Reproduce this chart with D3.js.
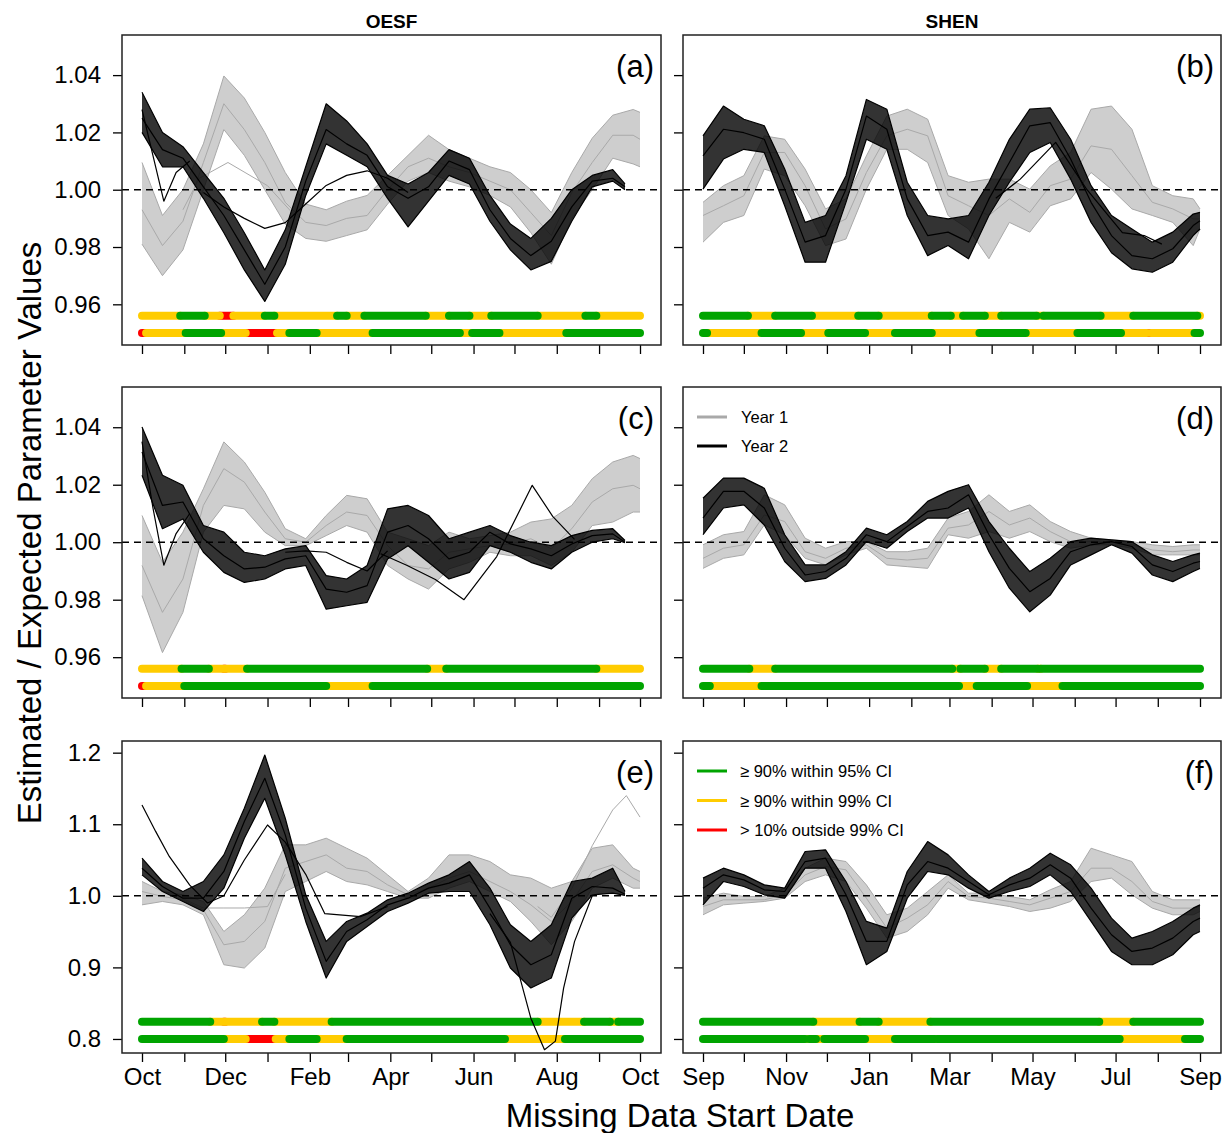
<!DOCTYPE html>
<html>
<head>
<meta charset="utf-8">
<script src="https://cdn.jsdelivr.net/npm/d3@7"></script>
<style>
  body { margin: 0; background: #fff; }
  svg { display: block; font-family: "Liberation Sans", Arial, sans-serif; }
</style>
</head>
<body>
<div id="chart"></div>
<script>
// day grids (days after the first tick of each column)
const gridFull = d3.range(0, 361, 15).concat([365]);
const gridShort = d3.range(0, 346, 15).concat([354]);

// ---- (a) OESF row 1 ----
const aGrayHi  = [1.0095,0.991,1.000,1.016,1.0397,1.032,1.020,1.006,0.995,0.993,0.996,0.998,1.005,1.012,1.019,1.014,1.011,1.008,1.006,1.000,0.992,1.006,1.018,1.026,1.028,1.027];
const aGrayMid = [0.993,0.9805,0.989,1.0095,1.030,1.021,1.0095,0.9956,0.9886,0.9875,0.990,0.991,1.000,1.008,1.011,1.008,1.006,1.003,1.000,0.992,0.984,0.999,1.0095,1.019,1.019,1.0176];
const aGrayLo  = [0.981,0.970,0.979,1.000,1.021,1.012,1.000,0.988,0.983,0.982,0.984,0.986,0.995,1.003,1.006,1.003,1.001,0.998,0.994,0.985,0.974,0.990,1.000,1.011,1.009,1.008];
const aBlackHi  = [1.034,1.020,1.015,1.006,0.997,0.985,0.972,0.986,1.008,1.030,1.024,1.016,1.005,1.002,1.006,1.014,1.011,0.998,0.988,0.983,0.990,1.000,1.005,1.007,1.002];
const aBlackMid = [1.025,1.014,1.011,1.001,0.991,0.979,0.967,0.980,1.003,1.021,1.016,1.012,1.001,0.997,1.001,1.010,1.007,0.993,0.983,0.977,0.982,0.994,1.003,1.004,1.001];
const aBlackLo  = [1.020,1.008,1.008,0.997,0.985,0.972,0.961,0.974,0.998,1.016,1.012,1.008,0.997,0.987,0.996,1.005,1.002,0.989,0.979,0.972,0.975,0.989,1.001,1.003,1.000];
const aDipDays = [0,8,16,25,35],  aDipVals = [1.028,1.012,0.996,1.006,1.010];
const aFlatDays = [45,60,75,90,105,120,135,150,165,180,195];
const aFlatVals = [0.999,0.994,0.990,0.9865,0.9885,0.995,1.0015,1.005,1.0066,1.004,0.999];
const aGrayOddDays = [30,42,63,92,110], aGrayOddVals = [0.993,1.004,1.0095,1.0014,0.992];
const aBar1Breaks = [0,28,46,57,67,90,97,143,150,163,208,225,240,256,290,325,333,365], aBar1Cols = "YGYRYGYGYGYGYGYGY";
const aBar2Breaks = [0,3,32,58,76,99,108,128,140,141,169,233,242,262,280,281,311,365], aBar2Cols = "RYGYRYGYRYGYGYRYG";

// ---- (b) SHEN row 1 ----
const bGrayHi  = [0.9956,1.0014,1.0049,1.0188,1.0176,1.0072,0.9933,0.9968,1.0118,1.0257,1.0281,1.0246,1.0049,1.0026,1.0037,1.0037,1.0002,1.0083,1.013,1.0281,1.0292,1.0211,1.0014,0.9979,0.9968,0.9933];
const bGrayMid = [0.991,0.9944,0.9979,1.013,1.013,1.0014,0.9863,0.9898,1.006,1.0188,1.0211,1.0188,0.9979,0.9944,0.991,0.9968,0.9921,1.0014,1.0037,1.0153,1.0141,1.0049,0.9956,0.9933,0.9898,0.9898];
const bGrayLo  = [0.9817,0.9886,0.991,1.0072,1.0049,0.9944,0.9805,0.9828,1.0002,1.0141,1.0141,1.0095,0.991,0.9863,0.9759,0.9886,0.9852,0.9944,0.9968,1.006,1.0002,0.9933,0.991,0.9886,0.9805,0.9863];
const bBlackHi  = [1.0188,1.0292,1.0246,1.0223,1.0072,0.9886,0.991,1.0049,1.0315,1.0281,1.0026,0.991,0.9898,0.991,1.0026,1.0176,1.0281,1.0286,1.0176,1.0014,0.991,0.9863,0.9817,0.9852,0.9915,0.9921];
const bBlackMid = [1.0118,1.0211,1.0199,1.0176,1.0002,0.9817,0.984,1.0002,1.0257,1.0211,0.9968,0.984,0.9852,0.9817,0.9968,1.0095,1.0223,1.0234,1.0107,0.9956,0.984,0.977,0.9759,0.9794,0.9875,0.9892];
const bBlackLo  = [1.0002,1.0107,1.0141,1.013,0.9944,0.9747,0.9747,0.9956,1.0176,1.0141,0.991,0.977,0.9805,0.9759,0.991,1.0026,1.013,1.0165,1.0037,0.9886,0.978,0.9724,0.9712,0.9747,0.984,0.9863];
const bSlowDays = [215,233,259,282,308,324,337], bSlowVals = [0.997,1.0037,1.0165,1.0,0.985,0.984,0.981];
const bBar1Breaks = [0,33,53,80,114,129,168,182,191,207,219,245,250,292,316,363,365], bBar1Cols = "GYGYGYGYGYGYGYGY";
const bBar2Breaks = [0,3,43,72,92,119,141,168,203,237,275,307,326,329,361,365], bBar2Cols = "GYGYGYGYGYGYRYG";

// ---- (c) OESF row 2 ----
const cGrayHi  = [1.0093,0.993,1.0035,1.0186,1.0349,1.0279,1.0174,1.0047,1.0012,1.0093,1.0163,1.0151,1.0035,1.0012,0.9988,1.0035,1.0012,1.0023,1.0035,1.007,1.0081,1.0128,1.0221,1.0279,1.0302,1.0291];
const cGrayMid = [0.9919,0.9756,0.9872,1.0128,1.0256,1.0209,1.0105,1.0012,1.0,1.0058,1.0105,1.0093,0.9988,0.9919,0.9907,0.9965,0.9977,0.9988,0.9994,1.0012,0.9977,1.0047,1.014,1.0186,1.0198,1.0186];
const cGrayLo  = [0.9814,0.9616,0.9756,1.0035,1.0128,1.0116,1.0035,0.9988,0.9988,1.0023,1.0058,1.0035,0.9919,0.9872,0.9837,0.9907,0.993,0.9965,0.9953,0.9953,0.9919,0.9965,1.0058,1.007,1.0105,1.0105];
const cBlackHi  = [1.0401,1.0233,1.0198,1.0058,1.0035,0.9965,0.9953,0.9977,0.9988,0.9884,0.9872,0.9919,1.0116,1.0128,1.0093,1.0012,1.0035,1.0058,1.0023,1.0,0.9988,1.0023,1.0041,1.0047,1.0006];
const cBlackMid = [1.0314,1.0128,1.014,1.0012,0.9953,0.9907,0.9913,0.9942,0.9953,0.9837,0.9826,0.9849,1.0035,1.0058,1.0012,0.9942,0.9965,1.0035,0.9994,0.9977,0.9953,0.9994,1.0023,1.0029,1.0];
const cBlackLo  = [1.0233,1.0047,1.0081,0.9965,0.9895,0.986,0.9872,0.9907,0.9919,0.9767,0.9779,0.9791,0.9942,0.9988,0.993,0.9872,0.9895,0.9988,0.9965,0.993,0.9907,0.9965,1.0,1.0012,0.9998];
const cDipDays = [0,8,16,25,35], cDipVals = [1.035,1.012,0.992,1.003,1.010];
const cFlatDays = [105,120,135,150,165,180], cFlatVals = [0.9965,0.997,0.9965,0.993,0.990,0.997];
const cLateDays = [175,194,215,236,260,286,301,317], cLateVals = [0.996,0.992,0.987,0.980,0.995,1.0198,1.009,1.001];
const cBar1Breaks = [0,29,49,60,61,77,209,223,333,365], cBar1Cols = "YGYRYGYGY";
const cBar2Breaks = [0,3,31,135,169,365], cBar2Cols = "RYGYG";

// ---- (d) SHEN row 2 ----
const dGrayHi  = [0.9991,1.0026,1.0037,1.0165,1.013,1.0014,0.9979,1.0002,1.0002,0.9967,0.9967,0.9979,1.0084,1.0107,1.0165,1.0107,1.013,1.0072,1.0037,1.0014,1.0008,1.0002,0.9991,0.9985,0.9991,0.9991];
const dGrayMid = [0.9944,0.9979,0.9991,1.0095,1.0072,0.9967,0.9944,0.9979,0.9991,0.9944,0.9938,0.9944,1.0049,1.006,1.0107,1.006,1.0084,1.0037,1.0002,1.0002,1.0,0.9991,0.9973,0.9967,0.9973,0.9973];
const dGrayLo  = [0.9909,0.9944,0.9956,1.006,1.0026,0.9944,0.9921,0.9956,0.9979,0.9921,0.9915,0.9909,1.0026,1.0014,1.0037,1.0014,1.0037,1.0002,0.9979,0.9991,0.9991,0.9979,0.9956,0.9956,0.9956,0.9956];
const dBlackHi  = [1.0153,1.0223,1.0223,1.0188,1.0026,0.9921,0.9921,0.9967,1.0049,1.0026,1.0072,1.0142,1.0177,1.02,1.0072,0.9979,0.9898,0.9944,1.0002,1.0014,1.0008,1.0002,0.9956,0.9933,0.9956,0.9962];
const dBlackMid = [1.0084,1.0177,1.0177,1.0119,0.9979,0.9886,0.9898,0.9944,1.0026,1.0002,1.0055,1.0107,1.0119,1.0165,1.0026,0.9909,0.9828,0.9874,0.9967,0.9991,1.0002,0.9985,0.9921,0.9898,0.9927,0.9933];
const dBlackLo  = [1.0026,1.0119,1.013,1.006,0.9933,0.9863,0.9874,0.9921,1.0002,0.9979,1.0037,1.0084,1.0084,1.0119,0.9967,0.984,0.9758,0.9816,0.9921,0.9956,0.9991,0.9962,0.9886,0.9863,0.9898,0.9909];
const dBar1Breaks = [0,34,53,183,189,207,219,246,248,365], dBar1Cols = "GYGYGYGYG";
const dBar2Breaks = [0,5,43,188,201,238,264,365], dBar2Cols = "GYGYGYG";

// ---- (e) OESF row 3 ----
const eGrayHi  = [1.02,1.006,1.0014,0.9921,0.9502,0.9735,1.0107,1.0712,1.0712,1.0805,1.0665,1.0526,1.0293,1.006,1.0247,1.0572,1.0572,1.0479,1.0293,1.0247,1.0107,1.02,1.0665,1.0712,1.0386,1.034];
const eGrayMid = [1.006,0.9991,0.9944,0.9805,0.9316,0.9363,0.9642,1.0386,1.0479,1.0572,1.0386,1.034,1.0153,1.0014,1.0107,1.0247,1.034,1.02,1.006,0.9874,0.9642,0.9921,1.034,1.0433,1.0247,1.02];
const eGrayLo  = [0.9874,0.9921,0.9874,0.9735,0.9037,0.8991,0.927,1.006,1.02,1.034,1.02,1.0153,1.006,0.9967,0.9967,1.0107,1.02,1.006,0.9921,0.9642,0.9316,0.9642,1.0107,1.0247,1.0107,1.0107];
const eGrayTopDays = [290,300,315,330,345,355,365], eGrayTopVals = [0.985,0.97,1.01,1.07,1.12,1.14,1.11];
const eGrayFlatDays = [30,45,60,75,92,105], eGrayFlatVals = [0.996,0.983,0.983,0.983,0.985,1.03];
const eBlackHi  = [1.0526,1.02,1.006,1.02,1.0572,1.1223,1.1967,1.1084,1.0014,0.9363,0.9642,0.9758,0.9944,1.0037,1.0177,1.0293,1.0479,1.0107,0.9595,0.9363,0.9595,1.02,1.0247,1.0386,1.006];
const eBlackMid = [1.0386,1.013,0.9967,0.9967,1.034,1.1037,1.1642,1.0851,0.9828,0.9084,0.9502,0.9665,0.9874,0.9967,1.0107,1.0177,1.0293,0.9828,0.9316,0.9037,0.9177,0.9967,1.013,1.0107,1.0023];
const eBlackLo  = [1.0293,1.006,0.9921,0.9781,1.0107,1.0805,1.1363,1.0572,0.9642,0.8851,0.9363,0.9572,0.9781,0.9898,1.0037,1.006,1.006,0.9595,0.8991,0.8712,0.8851,0.9688,1.0014,1.0037,1.0005];
const eEarlyDays = [0,10,20,35,48,60,75,92,105,120,134,160,180];
const eEarlyVals = [1.127,1.09,1.055,1.015,0.99,1.0,1.05,1.099,1.075,1.03,0.975,0.971,0.985];
const eDeepDays = [255,270,285,295,303,309,317,330], eDeepVals = [0.975,0.935,0.829,0.785,0.797,0.871,0.936,1.0];
const eBar1Breaks = [0,50,60,61,88,97,139,290,324,343,349,365], eBar1Cols = "GYRYGYGYGYG";
const eBar2Breaks = [0,60,76,98,108,128,150,266,310,365], eBar2Cols = "GYRYGYGYG";

// ---- (f) SHEN row 3 ----
const fGrayHi  = [0.9967,1.0037,0.9991,0.9991,1.0107,1.0386,1.0526,1.0479,1.0153,0.9735,0.9828,1.006,1.0293,1.0037,1.0037,0.9991,0.9944,1.0084,1.02,1.0665,1.0572,1.0479,1.006,0.9944,0.9944,0.9944];
const fGrayMid = [0.9851,0.9944,0.9944,0.9944,1.0014,1.0293,1.0409,1.0363,0.9967,0.9549,0.9688,0.9874,1.02,0.9991,0.9967,0.9921,0.9874,0.9967,1.006,1.0386,1.0386,1.02,0.9921,0.9828,0.9828,0.9851];
const fGrayLo  = [0.9735,0.9874,0.9898,0.9921,0.9967,1.02,1.0293,1.02,0.9828,0.9409,0.9502,0.9735,1.0107,0.9944,0.9898,0.9851,0.9781,0.9828,0.9921,1.02,1.0247,1.0014,0.9828,0.9735,0.9735,0.9781];
const fBlackHi  = [1.0247,1.0386,1.0293,1.0153,1.0107,1.0619,1.0642,1.02,0.9642,0.9549,1.034,1.0758,1.0572,1.0293,1.006,1.0247,1.0386,1.0595,1.0433,1.0107,0.9688,0.9409,0.9502,0.9642,0.9828,0.9874];
const fBlackMid = [1.0107,1.0293,1.0223,1.0084,1.006,1.0479,1.0526,1.0014,0.9363,0.9363,1.0153,1.0479,1.0386,1.02,1.0014,1.0153,1.0247,1.0433,1.0247,0.9828,0.9456,0.9223,0.927,0.9409,0.9642,0.9688];
const fBlackLo  = [0.9874,1.02,1.013,1.0014,0.9967,1.0386,1.0386,0.9781,0.9037,0.9223,0.9967,1.034,1.0293,1.0107,0.9967,1.006,1.013,1.0293,1.006,0.9642,0.9223,0.9037,0.9037,0.9177,0.9456,0.9502];
const fBar1Breaks = [0,81,115,129,167,291,316,365], fBar1Cols = "GYGYGYG";
const fBar2Breaks = [0,75,78,83,89,119,141,170,172,306,327,328,354,365], fBar2Cols = "GYGYGYGYGYRYG";

const colTitles = ["OESF", "SHEN"];
const yTicksSmall = [0.96, 0.98, 1.00, 1.02, 1.04];
const yTicksLarge = [0.8, 0.9, 1.0, 1.1, 1.2];
const statusNames = ["\u2265 90% within 95% CI", "\u2265 90% within 99% CI", "> 10% outside 99% CI"];
const yearNames = ["Year 1", "Year 2"];

const W = 1226, H = 1133, DAY = 864e5;
const colX = [[122, 661], [683, 1221]];
const rowY = [[35, 345], [387, 698], [741, 1053]];
const yDomains = [[0.9458, 1.054], [0.9458, 1.054], [0.7804, 1.2163]];
const barLevels = [[0.956, 0.950], [0.956, 0.950], [0.824, 0.800]];
const colStart = [Date.UTC(2012, 9, 1), Date.UTC(2013, 8, 1)];
const statusColor = { G: "#00a400", Y: "#ffcc00", R: "#ff0000" };
const grayCol = "#a9a9a9";

const panels = [
  { id: "a", col: 0, row: 0, gray: [aGrayHi, aGrayMid, aGrayLo], black: [aBlackHi, aBlackMid, aBlackLo], bDays: gridShort,
    grayOdd: [[aGrayOddDays, aGrayOddVals]], blackOdd: [[aDipDays, aDipVals], [aFlatDays, aFlatVals]],
    bars: [[aBar1Breaks, aBar1Cols], [aBar2Breaks, aBar2Cols]] },
  { id: "b", col: 1, row: 0, gray: [bGrayHi, bGrayMid, bGrayLo], black: [bBlackHi, bBlackMid, bBlackLo], bDays: gridFull,
    grayOdd: [], blackOdd: [[bSlowDays, bSlowVals]],
    bars: [[bBar1Breaks, bBar1Cols], [bBar2Breaks, bBar2Cols]] },
  { id: "c", col: 0, row: 1, gray: [cGrayHi, cGrayMid, cGrayLo], black: [cBlackHi, cBlackMid, cBlackLo], bDays: gridShort,
    grayOdd: [], blackOdd: [[cDipDays, cDipVals], [cFlatDays, cFlatVals], [cLateDays, cLateVals]],
    bars: [[cBar1Breaks, cBar1Cols], [cBar2Breaks, cBar2Cols]] },
  { id: "d", col: 1, row: 1, gray: [dGrayHi, dGrayMid, dGrayLo], black: [dBlackHi, dBlackMid, dBlackLo], bDays: gridFull,
    grayOdd: [], blackOdd: [],
    bars: [[dBar1Breaks, dBar1Cols], [dBar2Breaks, dBar2Cols]] },
  { id: "e", col: 0, row: 2, gray: [eGrayHi, eGrayMid, eGrayLo], black: [eBlackHi, eBlackMid, eBlackLo], bDays: gridShort,
    grayOdd: [[eGrayTopDays, eGrayTopVals], [eGrayFlatDays, eGrayFlatVals]], blackOdd: [[eEarlyDays, eEarlyVals], [eDeepDays, eDeepVals]],
    bars: [[eBar1Breaks, eBar1Cols], [eBar2Breaks, eBar2Cols]] },
  { id: "f", col: 1, row: 2, gray: [fGrayHi, fGrayMid, fGrayLo], black: [fBlackHi, fBlackMid, fBlackLo], bDays: gridFull,
    grayOdd: [], blackOdd: [],
    bars: [[fBar1Breaks, fBar1Cols], [fBar2Breaks, fBar2Cols]] }
];

const svg = d3.select("#chart").append("svg")
  .attr("width", W).attr("height", H)
  .attr("viewBox", `0 0 ${W} ${H}`);

panels.forEach(p => {
  const [x0, x1] = colX[p.col], [y0, y1] = rowY[p.row];
  const start = colStart[p.col];
  const x = d3.scaleUtc().domain([new Date(start), new Date(start + 365 * DAY)]).range([x0 + 20, x1 - 21]);
  const y = d3.scaleLinear().domain(yDomains[p.row]).range([y1, y0]);
  const xd = d => x(new Date(start + d * DAY));

  const g = svg.append("g");
  g.append("clipPath").attr("id", "clip-" + p.id)
    .append("rect").attr("x", x0).attr("y", y0).attr("width", x1 - x0).attr("height", y1 - y0);
  const plot = g.append("g").attr("clip-path", `url(#clip-${p.id})`);

  // status bars: red first, then yellow, then green on top
  p.bars.forEach(([breaks, cols], k) => {
    const yy = y(barLevels[p.row][k]);
    const runs = cols.split("").map((c, i) => ({ c, a: breaks[i], b: breaks[i + 1] }));
    ["R", "Y", "G"].forEach(c => {
      plot.selectAll(null).data(runs.filter(r => r.c === c)).enter().append("line")
        .attr("x1", r => xd(r.a)).attr("x2", r => xd(r.b))
        .attr("y1", yy).attr("y2", yy)
        .attr("stroke", statusColor[c]).attr("stroke-width", 8).attr("stroke-linecap", "round");
    });
  });

  const line = d3.line().x(d => xd(d[0])).y(d => y(d[1]));
  const band = d3.area().x(d => xd(d.d)).y0(d => y(d.lo)).y1(d => y(d.hi));

  function bundle(days, set, odd, col, bandFill, bandOpacity, width) {
    const bandData = days.map((d, i) => ({ d, hi: set[0][i], lo: set[2][i] }));
    plot.append("path").datum(bandData).attr("d", band)
      .attr("fill", bandFill).attr("fill-opacity", bandOpacity);
    set.forEach(vals => {
      plot.append("path").datum(d3.zip(days, vals)).attr("d", line)
        .attr("fill", "none").attr("stroke", col).attr("stroke-width", width)
        .attr("stroke-linejoin", "round");
    });
    odd.forEach(([ds, vs]) => {
      plot.append("path").datum(d3.zip(ds, vs)).attr("d", line)
        .attr("fill", "none").attr("stroke", col).attr("stroke-width", width)
        .attr("stroke-linejoin", "round");
    });
  }
  bundle(gridFull, p.gray, p.grayOdd, grayCol, "#bbbbbb", 0.72, 1);
  bundle(p.bDays, p.black, p.blackOdd, "#000", "#000", 0.8, 1.2);

  // reference line at 1
  g.append("line").attr("x1", x0).attr("x2", x1).attr("y1", y(1)).attr("y2", y(1))
    .attr("stroke", "#000").attr("stroke-width", 1.4).attr("stroke-dasharray", "7,5");

  // axes
  const yFmt = p.row === 2 ? d3.format(".1f") : d3.format(".2f");
  const yAxis = d3.axisLeft(y).tickValues(p.row === 2 ? yTicksLarge : yTicksSmall)
    .tickSize(9).tickPadding(12).tickFormat(p.col === 0 ? yFmt : "");
  const ya = g.append("g").attr("transform", `translate(${x0},0)`).call(yAxis);
  ya.select(".domain").remove();
  ya.selectAll(".tick line").attr("stroke-width", 1.3);
  ya.selectAll("text").attr("font-size", 24).attr("fill", "#000").attr("font-family", "Liberation Sans, Arial, sans-serif");

  const mFmt = d3.utcFormat("%b");
  const xAxis = d3.axisBottom(x).ticks(d3.utcMonth.every(1)).tickSize(9).tickPadding(6)
    .tickFormat((d, i) => (p.row === 2 && i % 2 === 0) ? mFmt(d) : "");
  const xa = g.append("g").attr("transform", `translate(0,${y1})`).call(xAxis);
  xa.select(".domain").remove();
  xa.selectAll(".tick line").attr("stroke-width", 1.3);
  xa.selectAll("text").attr("font-size", 24).attr("fill", "#000").attr("font-family", "Liberation Sans, Arial, sans-serif");

  // frame and label
  g.append("rect").attr("x", x0).attr("y", y0).attr("width", x1 - x0).attr("height", y1 - y0)
    .attr("fill", "none").attr("stroke", "#222").attr("stroke-width", 1.5);
  g.append("text").attr("x", x1 - 7).attr("y", y0 + 42).attr("text-anchor", "end")
    .attr("font-size", 31).text(`(${p.id})`);

  if (p.row === 0) {
    svg.append("text").attr("x", (x0 + x1) / 2).attr("y", 28).attr("text-anchor", "middle")
      .attr("font-size", 19).attr("font-weight", "bold").text(colTitles[p.col]);
  }

  if (p.id === "d") {
    const lg = g.append("g");
    [grayCol, "#000"].forEach((c, i) => {
      lg.append("line").attr("x1", x0 + 14).attr("x2", x0 + 44)
        .attr("y1", y0 + 30 + i * 29).attr("y2", y0 + 30 + i * 29)
        .attr("stroke", c).attr("stroke-width", 3);
      lg.append("text").attr("x", x0 + 58).attr("y", y0 + 36 + i * 29)
        .attr("font-size", 16.5).text(yearNames[i]);
    });
  }
  if (p.id === "f") {
    const lg = g.append("g");
    ["G", "Y", "R"].forEach((c, i) => {
      lg.append("line").attr("x1", x0 + 14).attr("x2", x0 + 44)
        .attr("y1", y0 + 30 + i * 29.5).attr("y2", y0 + 30 + i * 29.5)
        .attr("stroke", statusColor[c]).attr("stroke-width", 3);
      lg.append("text").attr("x", x0 + 57).attr("y", y0 + 36 + i * 29.5)
        .attr("font-size", 16.5).text(statusNames[i]);
    });
  }
});

// axis titles
svg.append("text").attr("transform", "translate(41,533) rotate(-90)")
  .attr("text-anchor", "middle").attr("font-size", 33)
  .text("Estimated / Expected Parameter Values");
svg.append("text").attr("x", 680).attr("y", 1127).attr("text-anchor", "middle")
  .attr("font-size", 33).text("Missing Data Start Date");
</script>
</body>
</html>
